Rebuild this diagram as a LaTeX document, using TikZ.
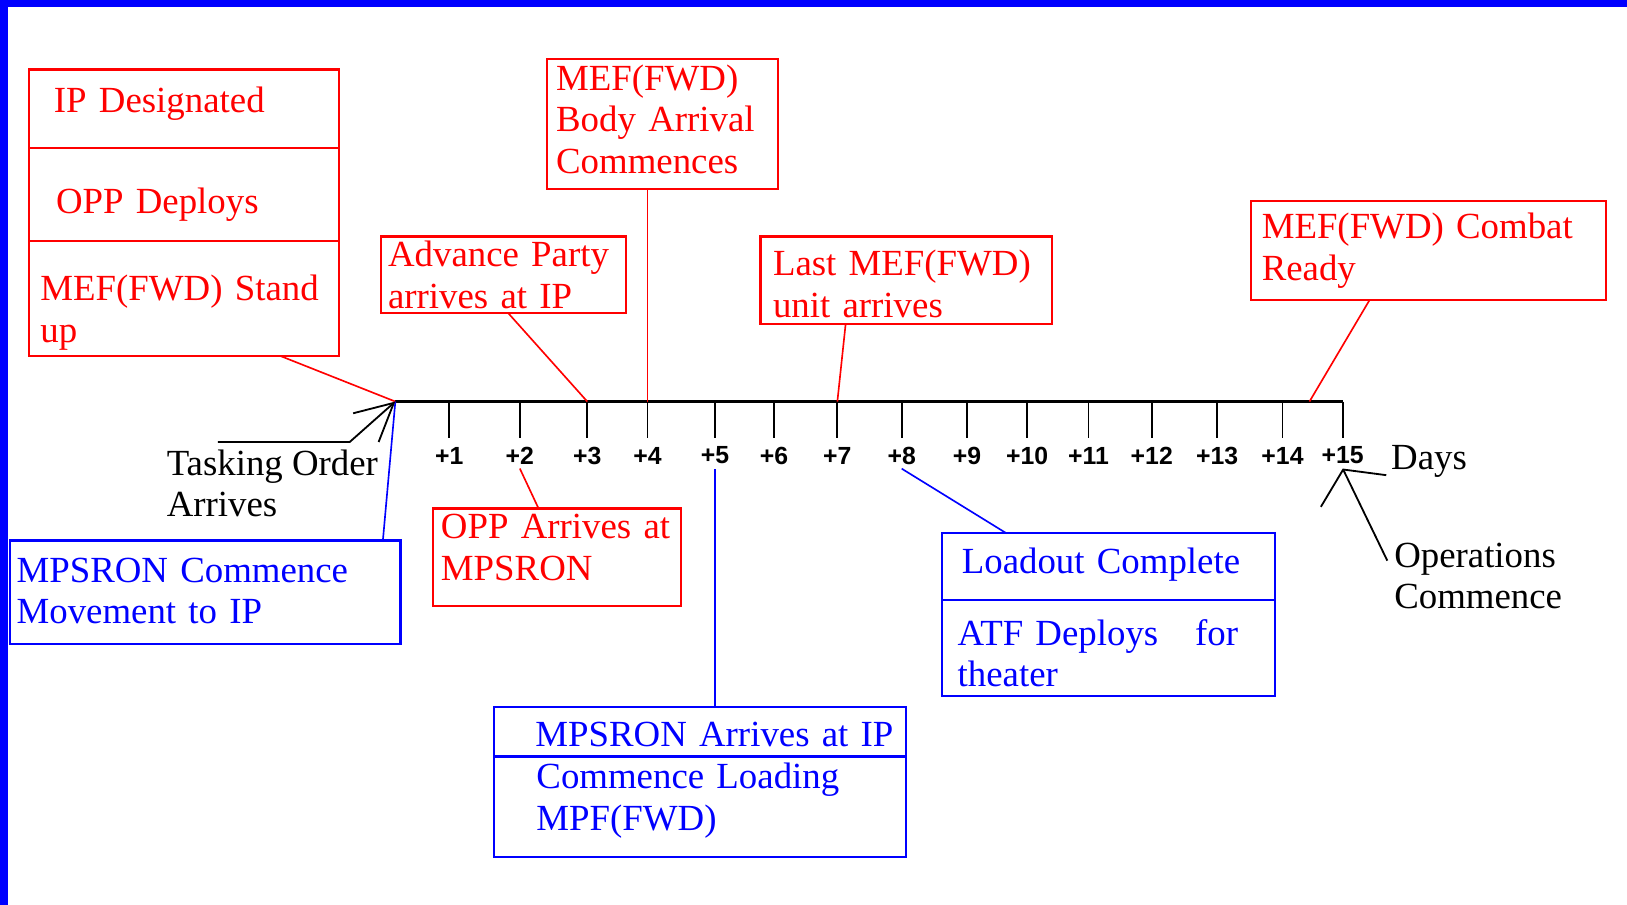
\documentclass[tikz,border=0pt]{standalone}
\usepackage{fontspec}
\setmainfont{Liberation Serif}
\newfontfamily\labelsans{Liberation Sans}
\usetikzlibrary{positioning, arrows.meta}

\begin{document}
\begin{tikzpicture}[
    x=0.1mm, y=-0.1mm,
    box/.style={
        rectangle,
        line width=0.6pt,
        anchor=north west,
        align=left,
        inner xsep=0pt,
        inner ysep=0pt,
        outer sep=0pt,
        font=\fontsize{10.1}{11.4}\selectfont
    },
    redbox/.style={box, draw=red, text=red},
    bluebox/.style={box, draw=blue, text=blue},
    %% width, height, first baseline, rest
    boxsize/.style n args={4}{
        minimum width=#1, text width=#1, minimum height=#2,
        text height=#3, text depth=#4
    },
    textindent/.style={execute at begin node={\setlength{\leftskip}{#1}}},
    plaintext/.style={
        anchor=west,
        align=left,
        inner sep=0pt,
        font=\fontsize{10.1}{11.4}\selectfont
    },
    daylabel/.style={
        inner sep=1pt,
        font=\labelsans\bfseries\fontsize{6.8}{8}\selectfont
    },
    axisline/.style={line width=0.7pt},
    tick/.style={line width=0.5pt},
    redline/.style={draw=red, line width=0.45pt},
    blueline/.style={draw=blue, line width=0.45pt},
    pointer/.style={
        -{Straight Barb[length=3.6mm, width=3.7mm]},
        line width=0.5pt
    },
    opshead/.style={-{Straight Barb[length=2.3mm, width=7mm]}}
]

%% Frame
\useasboundingbox (0,0) rectangle (1568,872);
\fill[white] (0,0) rectangle (1568,872);
\fill[blue] (0,0) rectangle (1568,6.7);
\fill[blue] (0,0) rectangle (7.7,872);

%% Day axis
\coordinate (d0) at (381,387);
\foreach \x [count=\i] in {433,501,566,624,689,746,807,869,932,990,1049,1110,1173,1236,1294} {
    \coordinate (d\i) at (\x,387);
    \draw[tick] (d\i) -- ++(0,35);
    \node[daylabel] (l\i) at (\x,439) {+\i};
}
\draw[axisline] (d0) -- (d15);
\node[plaintext] (days) at (1340,445) {Days};

%% Events above the axis
\node[redbox, boxsize={29.9mm}{7.6mm}{4.1mm}{3.5mm}, textindent=2.4mm] (ipdes) at (28,67) {IP Designated};
\node[redbox, boxsize={29.9mm}{8.9mm}{6.3mm}{2.6mm}, textindent=2.6mm, below=0pt of ipdes] (oppdep) {OPP Deploys};
\node[redbox, boxsize={29.9mm}{11.1mm}{5.8mm}{5.3mm}, textindent=1.1mm, below=0pt of oppdep] (standup) {MEF(FWD) Stand\\up};
\node[redbox, boxsize={22.3mm}{12.5mm}{3.0mm}{9.5mm}, textindent=0.9mm] (bodyarr) at (527,57) {MEF(FWD)\\Body Arrival\\Commences};
\node[redbox, boxsize={23.6mm}{7.4mm}{2.9mm}{4.5mm}, textindent=0.7mm] (advance) at (367,228) {Advance Party\\arrives at IP};
\node[redbox, boxsize={28.1mm}{8.4mm}{3.8mm}{4.6mm}, textindent=1.2mm] (lastunit) at (733,228) {Last MEF(FWD)\\unit arrives};
\node[redbox, boxsize={34.2mm}{9.5mm}{3.6mm}{5.9mm}, textindent=1.0mm] (combat) at (1206,194) {MEF(FWD) Combat\\Ready};

%% Events below the axis
\node[bluebox, boxsize={37.6mm}{10.0mm}{4.0mm}{6.0mm}, textindent=0.6mm] (mpscomm) at (10,521) {MPSRON Commence\\Movement to IP};
\node[redbox, boxsize={23.9mm}{9.4mm}{2.9mm}{6.5mm}, textindent=0.8mm] (opparr) at (417,490) {OPP Arrives at\\MPSRON};
\node[bluebox, boxsize={32.1mm}{6.4mm}{3.9mm}{2.5mm}, textindent=1.9mm] (loadout) at (908,514) {Loadout Complete};
\node[bluebox, boxsize={32.1mm}{9.3mm}{4.4mm}{4.9mm}, textindent=1.5mm, below=0pt of loadout] (atfdep) {ATF Deploys~~ for\\theater};
\node[bluebox, boxsize={39.7mm}{4.8mm}{3.8mm}{1.0mm}, textindent=4.0mm] (mpsarr) at (476,681) {MPSRON Arrives at IP};
\node[bluebox, boxsize={39.7mm}{9.7mm}{3.1mm}{6.6mm}, textindent=4.1mm, below=0pt of mpsarr] (loading) {Commence Loading\\MPF(FWD)};

%% Plain labels
\node[plaintext] (tasking) at (160,466) {Tasking Order\\Arrives};
\node[plaintext] (ops) at (1343,555) {Operations\\Commence};

%% Connections to the axis
\coordinate (ready) at (1262,387);
\draw[redline] ([xshift=-5.7mm]standup.south east) -- (d0);
\draw[redline] ([xshift=0.5mm]advance.south) -- (d3);
\draw[redline] (bodyarr.south -| d4) -- (d4);
\draw[redline] ([xshift=-5.85mm]lastunit.south) -- (d7);
\draw[redline] ([xshift=-5.7mm]combat.south) -- (ready);
\draw[blueline] ([xshift=-1.7mm]mpscomm.north east) -- (d0);
\draw[redline] ([xshift=-1.75mm]opparr.north) -- (l2.south);
\draw[blueline] ([xshift=-9.85mm]loadout.north) -- (l8.south);
\draw[blueline] (mpsarr.north -| l5) -- (l5.south);

%% Pointers
\coordinate (tasktail) at (210,426);
\draw[pointer] (tasktail) -- ++(127,0) -- (d0);
\draw[pointer, opshead] ([xshift=-0.6mm, yshift=-1.8mm]ops.north west) -- (l15.south);

\end{tikzpicture}
\end{document}
